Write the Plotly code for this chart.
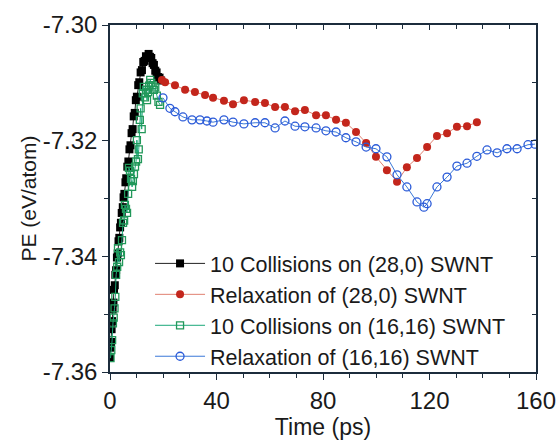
import plotly.graph_objects as go

# ---- data ----
black_t = [0.0, 0.2, 0.4, 0.6, 0.8, 1.0, 1.3, 1.5, 1.8, 2.0, 2.3, 2.6, 2.9, 3.2, 3.5, 3.8, 4.1, 4.4,
           4.8, 5.1, 5.4, 5.8, 6.1, 6.5, 6.9, 7.3, 7.7, 8.1, 8.5, 8.9, 9.3, 9.7, 10.1, 10.6, 11.0,
           11.5, 12.0, 12.5, 13.0, 13.5, 14.0, 14.5, 15.0, 15.5, 16.0, 16.5, 17.0, 17.5, 18.0,
           18.6, 19.2]
black_pe = [-7.3575, -7.3558, -7.3548, -7.3526, -7.3512, -7.3492, -7.3480, -7.3458, -7.3450, -7.3432,
            -7.3424, -7.3402, -7.3395, -7.3374, -7.3368, -7.3350, -7.3342, -7.3325, -7.3315, -7.3298,
            -7.3292, -7.3272, -7.3265, -7.3245, -7.3236, -7.3215, -7.3208, -7.3187, -7.3180, -7.3158,
            -7.3152, -7.3130, -7.3124, -7.3104, -7.3099, -7.3082, -7.3078, -7.3064, -7.3062, -7.3054,
            -7.3056, -7.3050, -7.3055, -7.3057, -7.3066, -7.3069, -7.3079, -7.3082, -7.3090, -7.3091,
            -7.3096]

red_t = [19.5, 20.7, 24.4, 28.2, 31.9, 35.7, 38.7, 42.8, 46.2, 50.3, 54.5, 58.2, 62.0, 65.7, 69.5,
         73.2, 77.4, 81.1, 84.9, 88.6, 92.4, 96.2, 99.9, 104.0, 107.8, 111.5, 115.3, 119.1, 122.8,
         126.6, 130.3, 134.1, 137.8]
red_pe = [-7.3095, -7.3099, -7.3104, -7.3112, -7.3116, -7.3121, -7.3126, -7.3131, -7.3137, -7.3130,
          -7.3133, -7.3135, -7.3142, -7.3142, -7.3149, -7.3147, -7.3156, -7.3156, -7.3164, -7.3169,
          -7.3185, -7.3204, -7.3228, -7.3251, -7.3271, -7.3246, -7.3230, -7.3211, -7.3192, -7.3187,
          -7.3176, -7.3175, -7.3168]

green_t = [0.2, 0.5, 0.8, 1.1, 1.4, 1.7, 2.0, 2.3, 2.7, 3.0, 3.4, 3.8, 4.1, 4.5, 4.9, 5.3, 5.6, 6.0,
           6.4, 6.8, 7.1, 7.5, 7.9, 8.3, 8.6, 9.0, 9.4, 9.8, 10.1, 10.5, 10.8, 11.2, 11.5, 11.9, 12.3,
           12.7, 13.1, 13.5, 13.9, 14.3, 14.7, 15.1, 15.5, 16.0, 16.5, 17.0, 17.6, 18.2, 18.8]
green_pe = [-7.3576, -7.3562, -7.3545, -7.3516, -7.3506, -7.3490, -7.3470, -7.3432, -7.3418, -7.3386,
            -7.3410, -7.3393, -7.3398, -7.3372, -7.3342, -7.3338, -7.3311, -7.3318, -7.3325, -7.3292,
            -7.3247, -7.3252, -7.3266, -7.3280, -7.3270, -7.3258, -7.3245, -7.3236, -7.3199, -7.3232,
            -7.3215, -7.3164, -7.3144, -7.3180, -7.3118, -7.3107, -7.3125, -7.3112, -7.3130, -7.3116,
            -7.3105, -7.3095, -7.3100, -7.3104, -7.3112, -7.3108, -7.3122, -7.3133, -7.3138]

blue_t = [19.9, 22.5, 24.4, 27.4, 30.8, 33.8, 36.4, 38.7, 42.8, 46.2, 50.3, 54.5, 58.2, 62.0, 65.7,
          69.5, 73.2, 77.4, 81.1, 84.9, 88.6, 92.4, 96.2, 99.9, 104.0, 107.8, 111.5, 115.3, 117.9,
          119.1, 122.8, 126.6, 130.3, 134.1, 137.8, 141.6, 145.4, 149.1, 152.9, 157.0, 159.6]
blue_pe = [-7.3126, -7.3144, -7.3150, -7.3159, -7.3164, -7.3164, -7.3166, -7.3168, -7.3164, -7.3168,
           -7.3171, -7.3169, -7.3169, -7.3178, -7.3166, -7.3175, -7.3176, -7.3178, -7.3183, -7.3185,
           -7.3195, -7.3202, -7.3211, -7.3214, -7.3228, -7.3259, -7.3280, -7.3306, -7.3315, -7.3309,
           -7.3280, -7.3263, -7.3244, -7.3239, -7.3227, -7.3216, -7.3221, -7.3214, -7.3214, -7.3207,
           -7.3206]

names = ["10 Collisions on (28,0) SWNT", "Relaxation of (28,0) SWNT",
         "10 Collisions on (16,16) SWNT", "Relaxation of (16,16) SWNT"]

x_ticks = [0, 40, 80, 120, 160]
y_ticks = [-7.36, -7.34, -7.32, -7.30]
y_ticklabels = ["-7.36", "-7.34", "-7.32", "-7.30"]

FONT = "Liberation Sans, Arial, sans-serif"
AX = "#1c2c3c"
TXT = "#1a1a1a"

fig = go.Figure()
fig.add_trace(go.Scatter(x=black_t, y=black_pe, name=names[0], mode="lines+markers",
                         line=dict(color="#222222", width=1),
                         marker=dict(symbol="square", size=8, color="black")))
fig.add_trace(go.Scatter(x=red_t, y=red_pe, name=names[1], mode="lines+markers",
                         line=dict(color="#e08070", width=1),
                         marker=dict(symbol="circle", size=8, color="#c3261c")))
fig.add_trace(go.Scatter(x=green_t, y=green_pe, name=names[2], mode="lines+markers",
                         line=dict(color="#1aa878", width=1),
                         marker=dict(symbol="square-open", size=7, color="#22985a",
                                     line=dict(width=1.3))))
fig.add_trace(go.Scatter(x=blue_t, y=blue_pe, name=names[3], mode="lines+markers",
                         line=dict(color="#3a78d8", width=1),
                         marker=dict(symbol="circle-open", size=8, color="#2a5ad8",
                                     line=dict(width=1.3))))
# mirror axes (top / right) with inward ticks
fig.add_trace(go.Scatter(x=[], y=[], xaxis="x2", yaxis="y2", showlegend=False, hoverinfo="skip"))

fig.update_layout(
    width=558, height=440,
    margin=dict(l=110, r=22, t=25, b=68, autoexpand=False),
    paper_bgcolor="white", plot_bgcolor="white",
    font=dict(family=FONT, size=22, color=TXT),
    showlegend=True,
    legend=dict(x=0.094, y=0.372, xanchor="left", yanchor="top",
                bgcolor="rgba(0,0,0,0)", borderwidth=0,
                font=dict(family=FONT, size=21.5, color=TXT),
                itemwidth=50, tracegroupgap=0),
    xaxis=dict(range=[0, 160], tickvals=x_ticks, ticks="outside", ticklen=6, tickwidth=1.2,
               tickcolor=AX, showline=True, linecolor=AX, linewidth=1.5, showgrid=False,
               zeroline=False, automargin=False, tickfont=dict(size=24, color=TXT),
               minor=dict(dtick=10, tick0=0, ticks="outside", ticklen=4, tickcolor=AX, showgrid=False),
               title=dict(text="Time (ps)", font=dict(size=23, color=TXT), standoff=4)),
    yaxis=dict(range=[-7.36, -7.30], tickvals=y_ticks, ticktext=y_ticklabels, ticks="outside",
               ticklen=6, tickwidth=1.2, tickcolor=AX, showline=True, linecolor=AX, linewidth=1.5,
               showgrid=False, zeroline=False, automargin=False, tickfont=dict(size=24, color=TXT),
               minor=dict(dtick=0.01, tick0=-7.36, ticks="outside", ticklen=4, tickcolor=AX, showgrid=False),
               title=dict(text="PE (eV/atom)", font=dict(size=21, color=TXT), standoff=0)),
    xaxis2=dict(range=[0, 160], overlaying="x", side="top", anchor="y", tickvals=x_ticks,
                ticks="inside", ticklen=5, tickcolor=AX, showticklabels=False, showline=True,
                linecolor=AX, linewidth=1.5, showgrid=False, zeroline=False, automargin=False,
                minor=dict(dtick=10, tick0=0, ticks="inside", ticklen=4, tickcolor=AX)),
    yaxis2=dict(range=[-7.36, -7.30], overlaying="y", side="right", anchor="x", tickvals=y_ticks,
                ticks="inside", ticklen=5, tickcolor=AX, showticklabels=False, showline=True,
                linecolor=AX, linewidth=1.5, showgrid=False, zeroline=False, automargin=False,
                minor=dict(dtick=0.01, tick0=-7.36, ticks="inside", ticklen=4, tickcolor=AX)),
)

fig.write_html("out.html", config={"displayModeBar": False},
               post_script="document.body.style.margin='0';")
